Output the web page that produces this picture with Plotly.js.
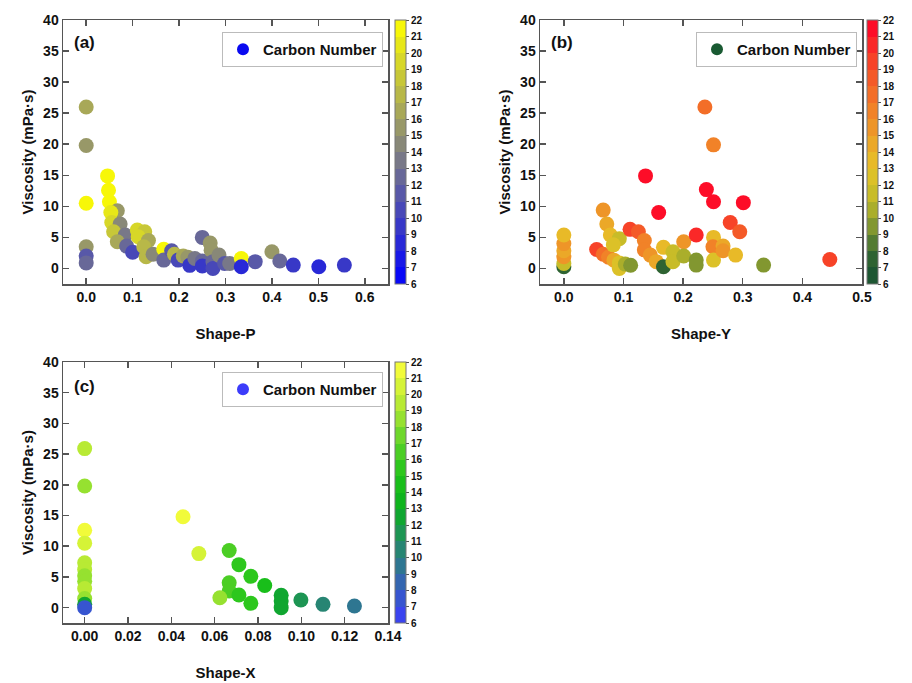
<!DOCTYPE html>
<html>
<head>
<meta charset="utf-8">
<script src="https://cdn.plot.ly/plotly-3.0.1.min.js"></script>
<style>html,body{margin:0;padding:0;background:#fff;}#chart{width:912px;height:683px;}</style>
</head>
<body>
<div id="chart"></div>
<script>
// ---------- DATA ----------
// Panel (a): Shape-P vs viscosity, coloured by carbon number
var shapeP = [0,0,0,0,0,0, 0.046,0.048,0.050,0.067,0.053,0.055,0.073,0.059,0.084,0.067,
  0.087,0.100,0.110,0.126,0.112,0.134,0.124,0.129,0.144,0.167,
  0.167,0.184,0.190,0.198,0.209,0.219,0.223,0.234,0.250,0.250,
  0.250,0.267,0.269,0.273,0.273,0.286,0.298,0.309,0.334,0.334,
  0.364,0.400,0.417,0.446,0.501,0.556];
var viscA = [26.0,19.8,10.5,3.5,2.0,0.9, 14.9,12.6,10.75,9.3,9.0,7.4,7.15,5.9,5.4,4.3,
  3.6,2.6,6.2,5.9,5.1,4.5,3.5,1.9,2.3,3.1,
  1.35,2.85,2.3,1.35,2.0,1.8,0.5,1.6,5.0,1.2,
  0.4,4.1,2.95,1.1,0.0,2.15,0.8,0.8,1.6,0.27,
  1.1,2.7,1.2,0.54,0.27,0.54];
var carbonA = [16,15,21,15,11,12, 22,22,21,15,20,19,14,18,13,16,
  12,10,19,18,19,16,17,17,14,21,
  12,11,17,10,16,15,9,13,12,12,
  9,15,15,12,10,14,11,13,21,8,
  11,15,12,9,8,9];

// Panel (b): Shape-Y
var shapeY = [0,0,0,0,0,0, 0.055,0.066,0.075,0.084,0.093,0.093,0.103,0.112,
  0.066,0.072,0.078,0.093,0.083,
  0.111,0.125,0.135,0.135,0.145,0.155,0.137,0.159,0.167,0.167,
  0.183,0.183,0.201,0.201,0.222,0.222,0.222,0.2365,0.239,0.251,
  0.251,0.251,0.250,0.251,0.267,0.267,0.279,0.288,0.295,0.301,
  0.335,0.446];
var viscB = [0.27,0.8,1.9,2.85,4.0,5.4, 3.06,2.3,1.8,1.34,0.9,0.0,0.7,0.53,
  9.4,7.15,5.4,4.8,3.8,
  6.3,5.9,4.5,3.0,2.15,1.1,14.9,9.0,3.4,0.27,
  2.7,1.1,4.3,2.0,5.4,1.35,0.54,26.0,12.7,19.9,
  10.75,5.0,3.5,1.35,3.6,2.85,7.4,2.15,5.9,10.6,
  0.54,1.45];
var carbonB = [7,11,15,14,15,13, 19,17,16,14,12,12,10,9,
  15,14,13,11,12,
  19,18,16,16,15,14,22,21,13,7,
  11,11,15,10,20,9,9,17,21,16,
  21,13,16,12,14,15,19,13,18,21,
  9,19];

// Panel (c): Shape-X
var shapeX = [0,0,0,0,0,0,0,0,0,0,0,0,
  0.0454,0.0527,0.0667,0.0712,0.0767,0.0831,0.0667,0.0667,0.0624,0.0712,0.0767,
  0.0907,0.0907,0.0907,0.0998,0.110,0.1245];
var viscC = [25.9,19.8,12.6,10.5,7.3,6.2,5.2,4.3,3.1,1.5,0.54,0,
  14.8,8.8,9.3,7.0,5.1,3.6,4.05,2.7,1.6,2.05,0.7,
  2.0,1.08,0,1.24,0.54,0.27];
var carbonC = [19,18,21,20,19,19,18,18,19,18,12,7,
  22,20,16,15,15,14,16,16,18,15,15,
  12,12,12,11,10,9];

var cbTicks = [6,7,8,9,10,11,12,13,14,15,16,17,18,19,20,21,22];
var yTicks = [0,5,10,15,20,25,30,35,40];
var legendName = 'Carbon Number';
var yTitle = 'Viscosity (mPa·s)';

// ---------- STYLE HELPERS ----------
function lerp(a,b,t){return Math.round(a+(b-a)*t);}
function colorAt(anchors, v){
  for(var i=0;i<anchors.length-1;i++){
    var a=anchors[i], b=anchors[i+1];
    if(v>=a[0] && v<=b[0]){
      var t=(v-a[0])/(b[0]-a[0]);
      return 'rgb('+lerp(a[1][0],b[1][0],t)+','+lerp(a[1][1],b[1][1],t)+','+lerp(a[1][2],b[1][2],t)+')';
    }
  }
  var l=anchors[anchors.length-1][1];
  return 'rgb('+l.join(',')+')';
}
function stepped(anchors){
  var cs=[], n=16;
  for(var i=0;i<n;i++){
    var c=colorAt(anchors, 6.5+i);
    cs.push([i/n,c]); cs.push([(i+1)/n,c]);
  }
  return cs;
}
var anchA=[[6,[0,0,255]],[14,[128,128,128]],[22,[255,255,0]]];
var anchB=[[6,[20,80,50]],[8,[55,105,50]],[9,[110,140,50]],[11,[190,185,40]],[13,[230,195,40]],[16,[240,140,40]],[19,[245,80,40]],[22,[255,0,40]]];
var anchC=[[6,[60,60,255]],[9,[50,110,160]],[11,[35,140,100]],[13,[10,175,30]],[15,[30,195,25]],[17,[90,210,40]],[19,[170,230,50]],[22,[255,255,60]]];

var W=912,H=683;
function px(x){return x/W;}
function py(y){return 1-y/H;}
var FONT='Liberation Sans, Arial, sans-serif';

function xaxis(domain, range, dtick, fmt, title, anchor){
  return {domain:domain, range:range, dtick:dtick, tick0:0, tickformat:fmt, anchor:anchor,
    showgrid:false, zeroline:false, showline:true, linecolor:'#555', linewidth:1.5, mirror:'ticks',
    ticks:'inside', ticklen:6, tickcolor:'#555', tickwidth:1.5,
    tickfont:{family:FONT,size:14,color:'#111',weight:'bold'},
    title:{text:title, font:{family:FONT,size:15,color:'#111',weight:'bold'}, standoff:24}};
}
function yaxis(domain, anchor){
  return {domain:domain, range:[-2.5,40], tickvals:yTicks, anchor:anchor,
    showgrid:false, zeroline:false, showline:true, linecolor:'#555', linewidth:1.5, mirror:'ticks',
    ticks:'inside', ticklen:6, tickcolor:'#555', tickwidth:1.5,
    tickfont:{family:FONT,size:14,color:'#111',weight:'bold'},
    title:{text:yTitle, font:{family:FONT,size:15,color:'#111',weight:'bold'}, standoff:6}};
}
function cbar(x, yTop, len){
  return {x:x, xanchor:'left', xpad:0, y:yTop, yanchor:'top', ypad:0, len:len, lenmode:'fraction',
    thickness:11, outlinewidth:1, outlinecolor:'#777', tickvals:cbTicks,
    ticks:'outside', ticklen:3, tickcolor:'#555',
    tickfont:{family:FONT,size:10,color:'#111',weight:'bold'}};
}
function mainTrace(x,y,c,xa,ya,ca){
  return {type:'scatter', mode:'markers', x:x, y:y, xaxis:xa, yaxis:ya, showlegend:false,
    marker:{size:15, color:c, coloraxis:ca, line:{width:0}}, hoverinfo:'x+y'};
}
function legTrace(color, xa, ya, leg){
  return {type:'scatter', mode:'markers', x:[null], y:[null], xaxis:xa, yaxis:ya, name:legendName,
    legend:leg, showlegend:true, marker:{size:13, color:color}};
}

var topA=20, botA=284, topC=362, botC=623;
var data=[
  mainTrace(shapeP, viscA, carbonA, 'x', 'y', 'coloraxis'),
  legTrace('rgb(10,10,240)', 'x', 'y', 'legend'),
  mainTrace(shapeY, viscB, carbonB, 'x2', 'y2', 'coloraxis2'),
  legTrace('rgb(25,90,50)', 'x2', 'y2', 'legend2'),
  mainTrace(shapeX, viscC, carbonC, 'x3', 'y3', 'coloraxis3'),
  legTrace('rgb(60,60,250)', 'x3', 'y3', 'legend3')
];

function legend(xRight, yTop){
  return {x:xRight, xanchor:'right', y:yTop, yanchor:'top', bgcolor:'#fff', bordercolor:'#bbb', borderwidth:1,
    font:{family:FONT,size:15,color:'#111',weight:'bold'}, itemsizing:'constant', tracegroupgap:0};
}

var layout={
  width:W, height:H, margin:{l:0,r:0,t:0,b:0}, paper_bgcolor:'#fff', plot_bgcolor:'#fff',
  showlegend:true,
  xaxis: xaxis([px(63),px(388)], [-0.05,0.65], 0.1, '.1f', 'Shape-P', 'y'),
  yaxis: yaxis([py(botA),py(topA)], 'x'),
  xaxis2: xaxis([px(540),px(862)], [-0.04,0.5], 0.1, '.1f', 'Shape-Y', 'y2'),
  yaxis2: yaxis([py(botA),py(topA)], 'x2'),
  xaxis3: xaxis([px(63),px(388)], [-0.01,0.14], 0.02, '.2f', 'Shape-X', 'y3'),
  yaxis3: yaxis([py(botC),py(topC)], 'x3'),
  coloraxis:{cmin:6,cmax:22,colorscale:stepped(anchA),colorbar:cbar(px(395),py(topA),(botA-topA)/H)},
  coloraxis2:{cmin:6,cmax:22,colorscale:stepped(anchB),colorbar:cbar(px(867),py(topA),(botA-topA)/H)},
  coloraxis3:{cmin:6,cmax:22,colorscale:stepped(anchC),colorbar:cbar(px(395),py(topC),(botC-topC)/H)},
  legend: legend(px(383), py(32)),
  legend2: legend(px(857), py(32)),
  legend3: legend(px(383), py(372)),
  annotations:[
    {text:'(a)', xref:'paper', yref:'paper', x:px(72), y:py(43), xanchor:'left', yanchor:'middle', showarrow:false, font:{family:FONT,size:17,color:'#111',weight:'bold'}},
    {text:'(b)', xref:'paper', yref:'paper', x:px(549), y:py(43), xanchor:'left', yanchor:'middle', showarrow:false, font:{family:FONT,size:17,color:'#111',weight:'bold'}},
    {text:'(c)', xref:'paper', yref:'paper', x:px(72), y:py(386), xanchor:'left', yanchor:'middle', showarrow:false, font:{family:FONT,size:17,color:'#111',weight:'bold'}}
  ]
};

Plotly.newPlot('chart', data, layout, {displayModeBar:false, staticPlot:true});
</script>
</body>
</html>
